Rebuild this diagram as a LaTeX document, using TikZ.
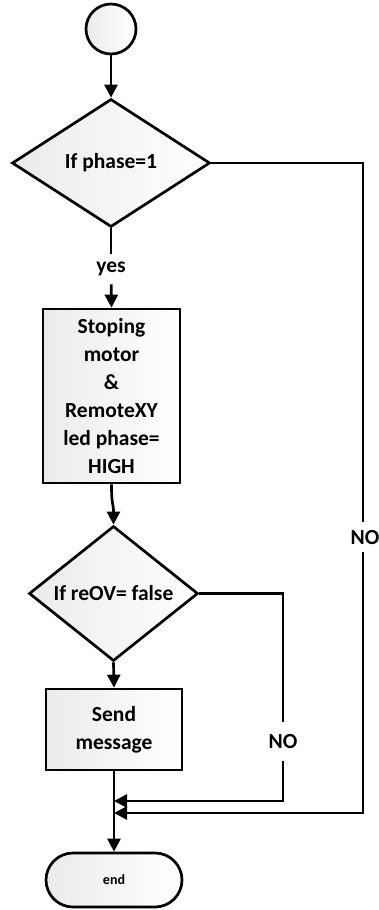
\documentclass[tikz,border=0pt]{standalone}
\usepackage{fontspec}
\setmainfont{Carlito}
\usetikzlibrary{shapes.geometric,arrows.meta}
\begin{document}
\begin{tikzpicture}[x=1pt,y=-1pt,
  line width=2.7pt,
  >={Triangle[length=13pt,width=13pt]},
  fillshade/.style={left color=black!8,right color=white},
  txt/.style={font=\fontsize{21.5}{28}\selectfont\bfseries,align=center},
  dec/.style={draw,diamond,fillshade,inner sep=0pt,txt},
  proc/.style={draw,rectangle,fillshade,inner sep=0pt,txt},
  lbl/.style={txt,inner sep=0pt,fill=none}
]
\useasboundingbox (0,0) rectangle (379,910);
\node[draw,circle,fillshade,minimum size=50pt,inner sep=0pt] (start) at (111,29) {};
\node[dec,minimum width=198pt,minimum height=128pt] (d1) at (111,163) {If phase=1};
\node[lbl,minimum height=28pt] (yes) at (111,269) {yes};
\node[proc,minimum width=137pt,minimum height=174pt] (box1) at (111.5,396) {Stoping\\motor\\\&\\RemoteXY\\led phase=\\HIGH};
\node[dec,minimum width=169pt,minimum height=105pt] (d2) at (113.5,593.5) {If reOV= false};
\node[proc,minimum width=136pt,minimum height=81pt] (box2) at (114,729.5) {Send\\message};
\node[draw,rectangle,rounded corners=27pt,fillshade,minimum width=136pt,minimum height=54pt,inner sep=0pt,font=\fontsize{14}{16}\selectfont\bfseries] (end) at (114,880) {end};
\node[lbl,minimum height=29pt] (no1) at (365,538) {NO};
\node[lbl,minimum height=37pt] (no2) at (283,741.5) {NO};
\coordinate (c1) at (363,163);
\coordinate (c2) at (363,813);
\coordinate (j2) at (114,813);
\coordinate (c3) at (283,593.5);
\coordinate (c4) at (283,801);
\coordinate (j1) at (114,801);
\coordinate (n1a) at (363,522);
\coordinate (n1b) at (363,552);
\draw[->] (start) -- (d1);
\draw (d1.south) -- (yes);
\draw[->] (yes) -- (box1.north);
\draw[->] (box1.south) .. controls +(0,22) and +(0,-22) .. (d2.north);
\draw[->] (d2.south) -- (box2.north);
\draw[->] (box2.south) -- (end.north);
\draw (d1.east) -- (c1) -- (n1a);
\draw[->] (n1b) -- (c2) -- (j2);
\draw (d2.east) -- (c3) -- (no2);
\draw[->] (no2) -- (c4) -- (j1);
\end{tikzpicture}
\end{document}
